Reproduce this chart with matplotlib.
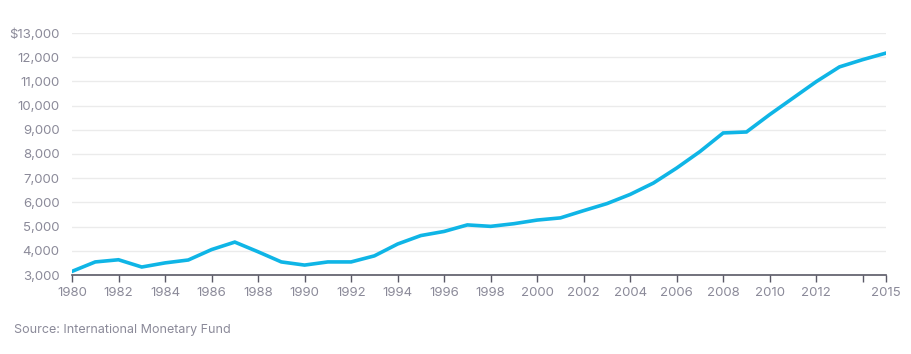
import matplotlib.pyplot as plt
from matplotlib.ticker import FuncFormatter

years = list(range(1980, 2016))
gdp = [3150, 3540, 3630, 3330, 3500, 3620, 4050, 4360, 3960, 3540,
       3410, 3540, 3540, 3790, 4280, 4630, 4800, 5070, 5010, 5120,
       5270, 5360, 5660, 5950, 6330, 6800, 7420, 8100, 8870, 8910,
       9630, 10310, 10990, 11600, 11900, 12170]
xticks = list(range(1980, 2015, 2)) + [2015]
xlabels = [str(y) if y != 2014 else '' for y in xticks]
yticks = list(range(3000, 14000, 1000))

plt.rcParams['font.family'] = ['Inter', 'DejaVu Sans']
txt = '#8b8a99'

fig = plt.figure(figsize=(9.12, 3.54), dpi=100)
ax = fig.add_axes([72/912, 1-275/354, (886-72)/912, (275-33)/354])

ax.plot(years, gdp, color='#0fb5e6', linewidth=2.6, solid_joinstyle='miter', zorder=3)

ax.set_xlim(1980, 2015)
ax.set_ylim(3000, 13000)
ax.set_xticks(xticks)
ax.set_xticklabels(xlabels)
ax.set_yticks(yticks)
ax.yaxis.set_major_formatter(FuncFormatter(
    lambda v, p: '${:,.0f}'.format(v) if v == 13000 else '{:,.0f}'.format(v)))

ax.grid(axis='y', color='#ebebeb', linewidth=1)
for s in ['top', 'right', 'left']:
    ax.spines[s].set_visible(False)
ax.spines['bottom'].set_color('#5a5966')
ax.spines['bottom'].set_linewidth(1.2)
ax.tick_params(axis='x', colors='#5a5966', length=5, width=1, labelcolor=txt, labelsize=9.5, pad=4)
ax.tick_params(axis='y', length=0, labelcolor=txt, labelsize=9.5, pad=9)

fig.text(14/912, 1-330/354, 'Source: International Monetary Fund', color=txt,
         fontsize=9, va='center', ha='left')

fig.savefig('out.png', dpi=100)
